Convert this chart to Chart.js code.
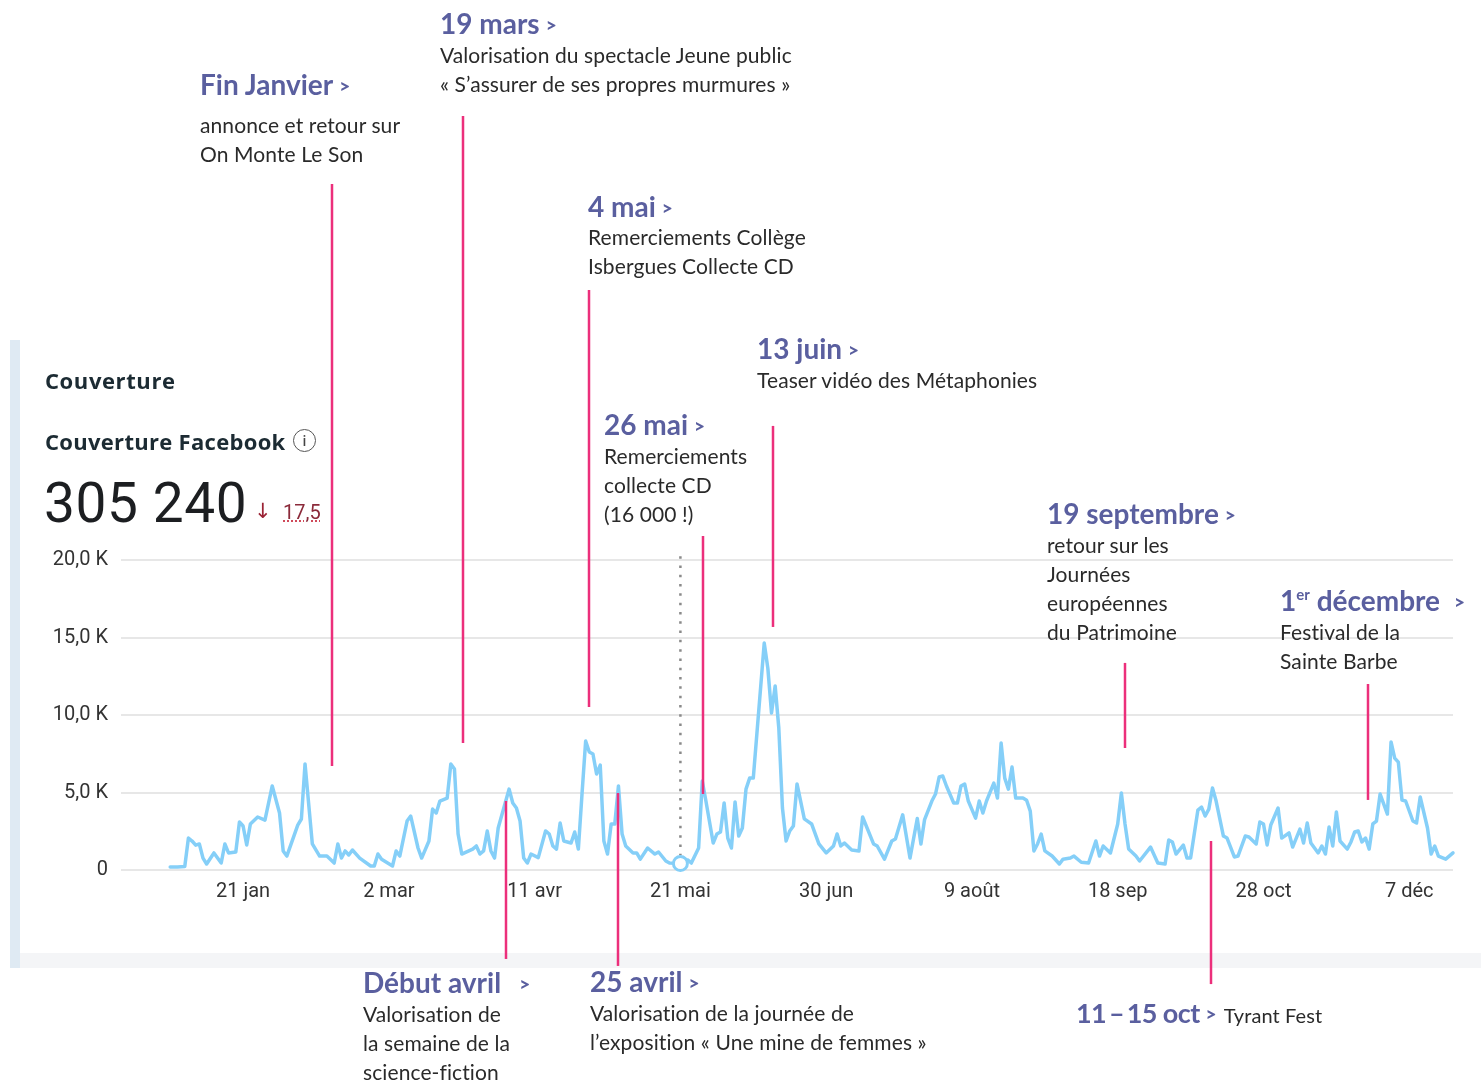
<!DOCTYPE html>
<html lang="fr">
<head>
<meta charset="utf-8">
<script src="https://cdn.jsdelivr.net/npm/chart.js@4.4.1/dist/chart.umd.min.js"></script>
<style>
  html,body{margin:0;padding:0;background:#fff;}
  body{width:1481px;height:1080px;position:relative;overflow:hidden;}
  #panel{position:absolute;left:10px;top:340px;width:1461px;height:628px;background:#fff;border-left:10px solid #dfeaf3;}
  #panelfoot{position:absolute;left:20px;top:953px;width:1461px;height:15px;background:#f4f5f7;}
  #wrap{position:absolute;left:0;top:0;width:1481px;height:1080px;z-index:1;}
  .t{position:absolute;z-index:2;white-space:nowrap;}
  .title{font-family:Lato,"Open Sans",sans-serif;font-weight:700;font-size:28px;line-height:32px;color:#5a5f9f;}
  .title .ch{font-size:19px;margin-left:6px;vertical-align:2px;font-weight:900;}
  .body{font-family:Lato,"Open Sans",sans-serif;font-weight:400;font-size:21px;line-height:29px;color:#2a2a2a;letter-spacing:0.1px;}
  .hd{font-family:"Open Sans",Roboto,sans-serif;color:#1c2b33;}
</style>
</head>
<body>
<div id="panel"></div>
<div id="panelfoot"></div>
<div id="wrap"><canvas id="c" width="1481" height="1080"></canvas></div>

<!-- header -->
<div class="t hd" style="left:45px;top:366px;font-size:22px;font-weight:700;line-height:28px;letter-spacing:0.6px;">Couverture</div>
<div class="t hd" style="left:45px;top:427px;font-size:22px;font-weight:700;line-height:28px;letter-spacing:0.3px;">Couverture Facebook</div>
<div class="t hd" style="left:293px;top:429px;width:21px;height:21px;border:1.6px solid #555;border-radius:50%;font-size:14px;line-height:21px;text-align:center;font-weight:600;color:#444;">i</div>
<div class="t" style="left:44px;top:473px;font-family:Roboto,sans-serif;font-size:55px;font-weight:400;line-height:60px;color:#1c1e21;letter-spacing:0.6px;">305 240</div>
<div class="t" style="left:254px;top:497px;font-family:'DejaVu Sans',sans-serif;font-size:21px;line-height:28px;color:#9b2335;">↓</div>
<div class="t" style="left:283px;top:499px;font-family:Roboto,sans-serif;font-size:20px;line-height:26px;color:#8b2a3a;text-decoration:underline dotted #d04a5a;">17,5</div>

<!-- annotations -->
<div class="t title" style="left:200px;top:68px;">Fin Janvier<span class="ch">&gt;</span></div>
<div class="t body" style="left:200px;top:110px;">annonce et retour sur<br>On Monte Le Son</div>

<div class="t title" style="left:440px;top:7px;">19 mars<span class="ch">&gt;</span></div>
<div class="t body" style="left:440px;top:40px;">Valorisation du spectacle Jeune public<br>« S’assurer de ses propres murmures »</div>

<div class="t title" style="left:588px;top:190px;">4 mai<span class="ch">&gt;</span></div>
<div class="t body" style="left:588px;top:222px;">Remerciements Collège<br>Isbergues Collecte CD</div>

<div class="t title" style="left:757px;top:332px;">13 juin<span class="ch">&gt;</span></div>
<div class="t body" style="left:757px;top:365px;">Teaser vidéo des Métaphonies</div>

<div class="t title" style="left:604px;top:408px;">26 mai<span class="ch">&gt;</span></div>
<div class="t body" style="left:604px;top:441px;">Remerciements<br>collecte CD<br>(16 000 !)</div>

<div class="t title" style="left:1047px;top:497px;">19 septembre<span class="ch">&gt;</span></div>
<div class="t body" style="left:1047px;top:530px;">retour sur les<br>Journées<br>européennes<br>du Patrimoine</div>

<div class="t title" style="left:1280px;top:584px;">1<sup style="font-size:15px;vertical-align:11px;line-height:0;">er</sup> décembre<span class="ch" style="margin-left:14px;">&gt;</span></div>
<div class="t body" style="left:1280px;top:617px;">Festival de la<br>Sainte Barbe</div>

<div class="t title" style="left:363px;top:966px;">Début avril<span class="ch" style="margin-left:18px;">&gt;</span></div>
<div class="t body" style="left:363px;top:999px;">Valorisation de<br>la semaine de la<br>science-fiction</div>

<div class="t title" style="left:590px;top:965px;">25 avril<span class="ch">&gt;</span></div>
<div class="t body" style="left:590px;top:998px;">Valorisation de la journée de<br>l’exposition « Une mine de femmes »</div>

<div class="t title" style="left:1076px;top:996px;"><span style="letter-spacing:-0.6px;font-size:27px;">11&thinsp;–&thinsp;15 oct</span><span class="ch">&gt;</span><span class="body" style="margin-left:7px;font-weight:400;font-size:20px;">Tyrant Fest</span></div>

<script>
// ---- data ----
const tickDays = [20, 60, 100, 140, 180, 220, 260, 300, 340];
const tickLabels = ['21 jan', '2 mar', '11 avr', '21 mai', '30 jun', '9 août', '18 sep', '28 oct', '7 déc'];
const yTickValues = [0, 5000, 10000, 15000, 20000];
const yTickLabels = ['0', '5,0 K', '10,0 K', '15,0 K', '20,0 K'];

// day index (0 = 1er janvier) and daily reach
const days = [0,2,4,5,6,7,8,9,10,12,14,15,16,18,19,20,21,22,24,26,28,30,31,32,35,36,37,39,41,43,45,46,47,48,49,50,52,55,56,57,58,61,62,63,65,66,68,69,71,72,73,74,76,77,78,79,80,83,84,85,86,87,88,89,90,93,94,95,96,97,98,99,101,103,104,105,106,107,108,110,111,112,113,114,115,116,117,118,119,120,121,122,123,124,125,127,128,129,131,133,134,136,137,140,142,143,145,146,147,149,150,151,152,153,154,155,156,157,158,159,160,163,164,165,166,167,168,169,170,171,172,174,176,178,180,182,183,184,185,187,189,190,193,194,196,198,199,201,203,205,206,207,209,210,211,212,213,215,216,217,218,219,221,222,223,224,226,227,228,229,230,231,232,234,235,236,237,238,239,240,242,244,245,247,248,250,252,254,255,256,258,260,261,262,263,265,266,269,271,273,274,275,276,278,279,280,282,283,284,285,286,287,289,290,292,293,295,296,298,299,300,301,302,304,305,307,308,310,311,312,313,315,316,317,318,319,320,321,323,324,325,326,327,328,329,330,331,332,334,335,336,337,338,339,341,342,343,345,346,347,348,350,352];
const reach = [200,200,220,2060,1870,1600,1680,770,390,1100,450,1680,1100,1160,3100,2840,1610,2970,3420,3220,5420,3680,1230,900,2900,3290,6840,1680,900,900,450,1680,770,1230,970,1290,770,260,260,1030,700,260,1230,900,3160,3480,1420,770,1870,3930,3680,4450,4640,6840,6510,2320,1030,1350,1550,1030,1230,2520,1230,770,2710,5220,4320,4000,3160,770,450,1030,800,2520,2320,1550,1350,3030,1870,1740,2450,1350,4900,8320,7610,7480,6190,6770,1870,1030,2970,2970,5420,2320,1550,1100,1100,700,1420,1030,1160,580,450,420,650,450,1420,5740,4450,1740,2320,2450,4320,2060,1420,4390,2190,2710,5220,5930,5930,14640,13000,10130,11870,9160,4000,1870,2520,2840,5550,3300,2970,1680,1100,1550,2320,1550,1740,1290,1230,3420,1680,1550,700,1870,2000,3560,770,3320,1680,3250,4450,4900,6000,6060,5420,4320,4320,5420,5550,4450,3350,4450,3680,4450,5610,4640,8190,5930,5220,6640,4640,4640,4500,3800,1230,1680,2320,1230,900,390,700,770,900,500,450,1870,900,1550,1100,2970,4970,2970,1350,900,580,1480,450,390,1940,1810,1030,1610,770,770,3870,4060,3480,3930,5290,4450,2190,2060,840,900,2190,2130,1680,3100,2970,1610,2900,4000,2060,2390,1480,2640,1740,3030,1740,1100,1550,1030,2770,1550,3740,1870,1350,1810,2450,2520,1810,2060,1350,2970,3160,4900,3610,8260,7220,6960,4510,4450,3160,3030,4710,2710,1030,1550,900,700,1100];
const hoverDay = 140;

// annotation leader lines: day, top value, bottom value
const noteDays   = [44.4, 80.4, 114.9, 165.4, 146.2, 262.0, 328.6, 92.2, 122.9, 285.6];
const noteTop    = [44260, 48650, 37420, 28650, 21550, 13360, 12000, 4450, 4970, 1870];
const noteBottom = [6710, 8190, 10520, 15680, 4900, 7870, 4520, -5740, -6190, -7360];

// ---- chart ----
const blue = '#85cff8';
const notesPlugin = {
  id: 'notes',
  beforeDatasetsDraw(chart) {
    const {ctx, scales: {x, y}} = chart;
    const i = days.indexOf(hoverDay);
    const hx = x.getPixelForValue(hoverDay);
    ctx.save();
    ctx.strokeStyle = '#8a8a8a';
    ctx.lineWidth = 2.5;
    ctx.setLineDash([2.5, 6.8]);
    ctx.beginPath();
    ctx.moveTo(hx, y.getPixelForValue(20250));
    ctx.lineTo(hx, y.getPixelForValue(reach[i]) - 8);
    ctx.stroke();
    ctx.restore();
  },
  afterDatasetsDraw(chart) {
    const {ctx, scales: {x, y}} = chart;
    ctx.save();
    ctx.strokeStyle = '#ec2f7b';
    ctx.lineWidth = 2.5;
    noteDays.forEach((d, k) => {
      const px = Math.round(x.getPixelForValue(d));
      ctx.beginPath();
      ctx.moveTo(px, y.getPixelForValue(noteTop[k]));
      ctx.lineTo(px, y.getPixelForValue(noteBottom[k]));
      ctx.stroke();
    });
    ctx.restore();
  }
};

new Chart(document.getElementById('c'), {
  type: 'line',
  data: {
    datasets: [{
      data: days.map((d, i) => ({x: d, y: reach[i]})),
      borderColor: blue,
      borderWidth: 3.5,
      tension: 0,
      borderJoinStyle: 'round',
      borderCapStyle: 'round',
      pointRadius: ctx => days[ctx.dataIndex] === hoverDay ? 7 : 0,
      pointBackgroundColor: '#ffffff',
      pointBorderColor: blue,
      pointBorderWidth: 3,
      clip: false
    }]
  },
  options: {
    responsive: false,
    animation: false,
    devicePixelRatio: 1,
    layout: {padding: {left: 0, right: 28, top: 560, bottom: 0}},
    plugins: {legend: {display: false}, tooltip: {enabled: false}},
    scales: {
      x: {
        type: 'linear',
        min: -13.5,
        max: 352,
        afterBuildTicks: s => { s.ticks = tickDays.map(v => ({value: v})); },
        afterFit: s => { s.height = 1080 - 870; },
        grid: {display: false, drawTicks: false},
        border: {display: false},
        ticks: {
          autoSkip: false, maxRotation: 0, padding: 10,
          color: '#333', font: {family: 'Roboto, "Liberation Sans", sans-serif', size: 20},
          callback: v => tickLabels[tickDays.indexOf(v)]
        }
      },
      y: {
        min: 0,
        max: 20000,
        afterBuildTicks: s => { s.ticks = yTickValues.map(v => ({value: v})); },
        afterFit: s => { s.width = 121; },
        grid: {color: '#e7e7e7', lineWidth: 2, drawTicks: false},
        border: {display: false},
        ticks: {
          padding: 13,
          color: '#333', font: {family: 'Roboto, "Liberation Sans", sans-serif', size: 20},
          callback: v => yTickLabels[yTickValues.indexOf(v)]
        }
      }
    }
  },
  plugins: [notesPlugin]
});
</script>
</body>
</html>
